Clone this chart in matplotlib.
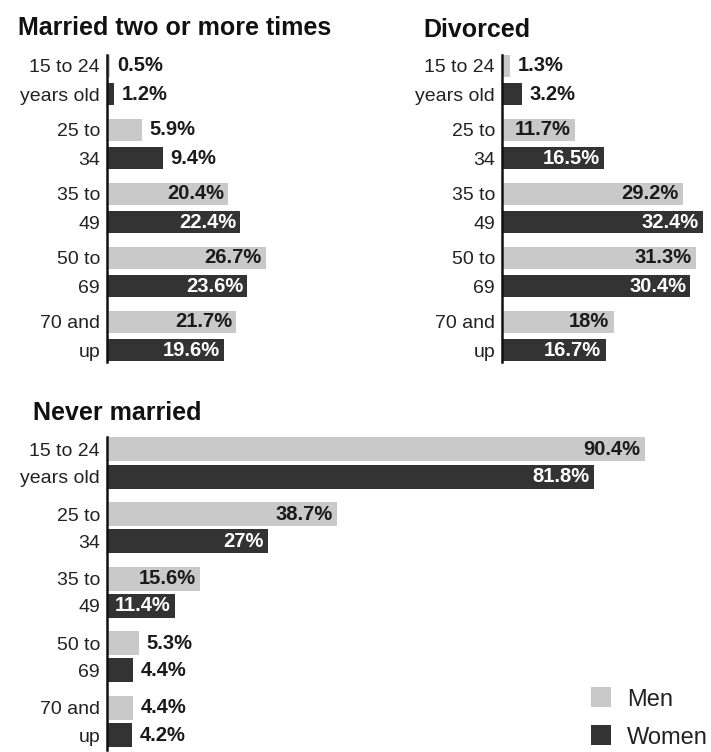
import matplotlib
matplotlib.use("Agg")
import matplotlib.pyplot as plt
from matplotlib.patches import Rectangle
import numpy as np

# ---- data ----
age_top = ["15 to 24", "25 to", "35 to", "50 to", "70 and"]
age_bottom = ["years old", "34", "49", "69", "up"]

remarried_men = [0.5, 5.9, 20.4, 26.7, 21.7]
remarried_women = [1.2, 9.4, 22.4, 23.6, 19.6]

divorced_men = [1.3, 11.7, 29.2, 31.3, 18]
divorced_women = [3.2, 16.5, 32.4, 30.4, 16.7]

never_men = [90.4, 38.7, 15.6, 5.3, 4.4]
never_women = [81.8, 27, 11.4, 4.4, 4.2]

titles = ["Married two or more times", "Divorced", "Never married"]
series_names = ["Men", "Women"]

# ---- style ----
LIGHT = "#c9c9c9"
DARK = "#333333"
FONT = "Liberation Sans"
plt.rcParams["font.family"] = [FONT, "DejaVu Sans"]

W, H = 711, 752
fig = plt.figure(figsize=(W / 100, H / 100), dpi=100)
fig.patch.set_facecolor("white")


def axes_px(x0, y0, x1, y1):
    return fig.add_axes([x0 / W, 1 - y1 / H, (x1 - x0) / W, (y1 - y0) / H])


def panel(ax, men, women, scale, width_px, top_pad, bot_pad, spacing, off, h):
    n = len(men)
    pos = np.arange(n)
    ax.set_xlim(0, width_px / scale)
    ax.set_ylim(n - 1 + bot_pad / spacing, -top_pad / spacing)
    ym = pos - off
    yw = pos + off
    ax.barh(ym, men, height=h, color=LIGHT, edgecolor="none")
    ax.barh(yw, women, height=h, color=DARK, edgecolor="none")
    for vals, ys, incol in ((men, ym, "#1a1a1a"), (women, yw, "white")):
        for v, y in zip(vals, ys):
            txt = f"{v:g}%"
            if v >= 10:
                ax.annotate(txt, xy=(v, y), xytext=(-3, 0), textcoords="offset points",
                            ha="right", va="center", fontsize=14.5, fontweight="bold",
                            color=incol)
            else:
                ax.annotate(txt, xy=(v, y), xytext=(5.5, 0), textcoords="offset points",
                            ha="left", va="center", fontsize=14.5, fontweight="bold",
                            color="#1a1a1a")
    ticks = np.concatenate([ym, yw])
    labels = list(age_top) + list(age_bottom)
    ax.set_yticks(ticks)
    ax.set_yticklabels(labels, fontsize=14, color="#222222")
    ax.tick_params(axis="y", length=0, pad=5)
    ax.set_xticks([])
    for s in ("top", "right", "bottom"):
        ax.spines[s].set_visible(False)
    ax.spines["left"].set_linewidth(1.8)
    ax.spines["left"].set_color("#111111")
    ax.patch.set_alpha(0)


# Married two or more times
ax1 = axes_px(107, 55, 335, 362)
panel(ax1, remarried_men, remarried_women, 5.95, 228, 25, 26, 64, 0.22, 0.35)

# Divorced
ax2 = axes_px(502, 55, 711, 362)
panel(ax2, divorced_men, divorced_women, 6.2, 209, 25, 26, 64, 0.22, 0.35)

# Never married
ax3 = axes_px(107, 437, 705, 750)
panel(ax3, never_men, never_women, 5.95, 598, 26, 28.5, 64.6, 0.21, 0.37)

# titles
fig.text(18 / W, 1 - 35 / H, titles[0], fontsize=18, fontweight="bold", va="baseline",
         ha="left", color="#111111")
fig.text(423 / W, 1 - 37 / H, titles[1], fontsize=18, fontweight="bold", va="baseline",
         ha="left", color="#111111")
fig.text(33 / W, 1 - 420 / H, titles[2], fontsize=18, fontweight="bold", va="baseline",
         ha="left", color="#111111")

# legend
for (name, col, ytop) in ((series_names[0], LIGHT, 687), (series_names[1], DARK, 725)):
    fig.add_artist(Rectangle((591 / W, 1 - (ytop + 20) / H), 20 / W, 20 / H,
                             transform=fig.transFigure, facecolor=col, edgecolor="none"))
    fig.text(627 / W, 1 - (ytop + 19) / H, name, fontsize=17, va="baseline", ha="left",
             color="#222222")

fig.savefig("out.png", dpi=100, facecolor="white")
